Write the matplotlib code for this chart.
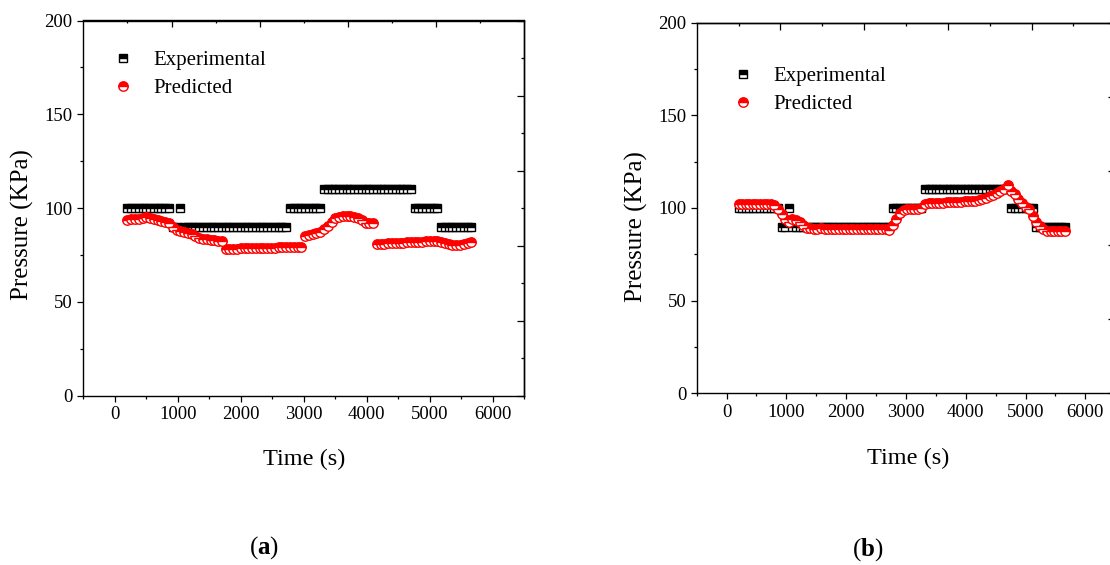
import numpy as np
import matplotlib
matplotlib.use("Agg")
import matplotlib.pyplot as plt
from matplotlib.ticker import FixedLocator, MultipleLocator, NullFormatter

plt.rcParams['font.family'] = ['Liberation Serif', 'DejaVu Serif']
plt.rcParams['mathtext.fontset'] = 'custom'
plt.rcParams['mathtext.rm'] = 'Liberation Serif'
plt.rcParams['mathtext.bf'] = 'Liberation Serif:bold'

# ---- data (time sampled every 60 s) ----
time_s = np.arange(200, 5700, 60)

experimental = [100, 100, 100, 100, 100, 100, 100, 100, 100, 100, 100, 100,
                90, 90,
                100,
                90, 90, 90, 90, 90, 90, 90, 90, 90, 90, 90, 90, 90, 90,
                90, 90, 90, 90, 90, 90, 90, 90, 90, 90, 90, 90, 90, 90,
                100, 100, 100, 100, 100, 100, 100, 100, 100,
                110, 110, 110, 110, 110, 110, 110, 110, 110, 110, 110, 110,
                110, 110, 110, 110, 110, 110, 110, 110, 110, 110, 110, 110,
                100, 100, 100, 100, 100, 100, 100,
                90, 90, 90, 90, 90, 90, 90, 90, 90]

predicted_a = [93.8, 94.0, 94.1, 94.3, 94.7, 95.0, 94.6, 94.0, 93.5, 93.1,
               92.7, 92.0, 90.0, 88.5, 87.6, 87.0, 86.6, 86.1, 85.0, 84.1,
               83.7, 83.4, 83.1, 82.9, 82.7, 82.4, 78.3, 78.3, 78.4, 78.4,
               78.5, 78.5, 78.6, 78.6, 78.7, 78.7, 78.8, 78.8, 78.9, 78.9,
               79.0, 79.0, 79.1, 79.1, 79.2, 79.3, 79.4, 85.0, 85.7, 86.3,
               86.8, 87.4, 88.6, 90.2, 92.8, 94.6, 95.3, 95.7, 95.9, 95.7,
               95.3, 94.7, 93.6, 92.1, 92.2, 92.3, 80.9, 81.0, 81.1, 81.2,
               81.3, 81.4, 81.5, 81.6, 81.7, 81.8, 81.9, 82.0, 82.1, 82.2,
               82.4, 82.5, 82.2, 81.8, 81.3, 80.9, 80.5, 80.2, 80.5, 81.0,
               81.5, 82.0]

predicted_b = [102.4, 102.3, 102.3, 102.3, 102.2, 102.3, 102.3, 102.3, 102.3, 102.1,
               101.4, 99.5, 96.6, 94.0, 92.3, 94.0, 93.7, 92.6, 90.6, 89.4,
               89.0, 88.8, 88.6, 89.2, 88.8, 88.6, 88.5, 88.9, 88.5, 88.5,
               88.8, 88.5, 88.6, 88.5, 88.6, 88.4, 88.5, 88.6, 88.5, 88.9,
               88.8, 88.6, 87.9, 90.6, 94.0, 97.2, 99.0, 99.6, 99.6, 99.7,
               99.7, 99.8, 102.2, 102.5, 102.6, 102.7, 102.8, 102.9, 103.0, 103.2,
               103.3, 103.4, 103.5, 103.6, 103.8, 103.9, 104.0, 104.2, 104.8, 105.6,
               106.4, 107.2, 108.1, 109.0, 110.3, 112.4, 109.4, 107.3, 105.0, 102.6,
               100.7, 99.3, 95.6, 92.6, 90.5, 88.5, 87.7, 87.6, 87.6, 87.5,
               87.5, 87.4]

x_ticks = [0, 1000, 2000, 3000, 4000, 5000, 6000]
y_ticks = [0, 50, 100, 150, 200]
top_major = [900, 2300, 3700, 5100]
top_minor = [200, 1600, 3000, 4400, 5800]
right_major = [0, 40, 80, 120, 160, 200]
right_minor = [20, 60, 100, 140, 180]

W, H = 1110, 565
fig = plt.figure(figsize=(W / 100, H / 100), dpi=100)


def px_rect(left, top, right, bottom):
    return [left / W, 1 - bottom / H, (right - left) / W, (bottom - top) / H]


def make_panel(rect, pred, leg_anchor, xlab_y, ylab_x, ylab_y, xlab_x=0.5):
    ax = fig.add_axes(rect)
    ax.plot(time_s, experimental, linestyle='none', marker='s', markersize=5.8,
            markeredgewidth=1.0, markeredgecolor='black', markerfacecolor='black',
            markerfacecoloralt='white', fillstyle='top', label='Experimental')
    ax.plot(time_s, pred, linestyle='none', marker='o', markersize=6.8,
            markeredgewidth=1.0, markeredgecolor='red', markerfacecolor='red',
            markerfacecoloralt='white', fillstyle='top', label='Predicted')
    ax.set_xlim(-500, 6500)
    ax.set_ylim(0, 200)
    ax.set_xticks(x_ticks)
    ax.set_yticks(y_ticks)
    ax.xaxis.set_minor_locator(MultipleLocator(500))
    ax.yaxis.set_minor_locator(MultipleLocator(25))
    for s in ax.spines.values():
        s.set_linewidth(1.0)
    ax.tick_params(which='major', direction='out', length=4.6, width=0.9,
                   labelsize=13.5, pad=3, top=False, right=False)
    ax.tick_params(which='minor', direction='out', length=2.4, width=0.9,
                   top=False, right=False)

    secx = ax.secondary_xaxis('top')
    secx.set_xticks(top_major)
    secx.xaxis.set_minor_locator(FixedLocator(top_minor))
    secx.xaxis.set_major_formatter(NullFormatter())
    secx.tick_params(which='major', direction='in', length=4.8, width=0.9)
    secx.tick_params(which='minor', direction='in', length=2.4, width=0.9)
    secx.spines['top'].set_linewidth(1.0)

    secy = ax.secondary_yaxis('right')
    secy.set_yticks(right_major)
    secy.yaxis.set_minor_locator(FixedLocator(right_minor))
    secy.yaxis.set_major_formatter(NullFormatter())
    secy.tick_params(which='major', direction='in', length=4.8, width=0.9)
    secy.tick_params(which='minor', direction='in', length=2.4, width=0.9)
    secy.spines['right'].set_linewidth(1.0)

    ax.set_xlabel('Time (s)', fontsize=17.5, va='center')
    ax.xaxis.set_label_coords(xlab_x, xlab_y)
    ax.set_ylabel('Pressure (KPa)', fontsize=18, va='center')
    ax.yaxis.set_label_coords(ylab_x, ylab_y)

    ax.legend(loc='upper left', bbox_to_anchor=leg_anchor, frameon=False,
              fontsize=15, numpoints=1, handlelength=1.0, handletextpad=0.95,
              borderpad=0, borderaxespad=0, labelspacing=0.40, markerscale=1.0)
    return ax


ax_a = make_panel(px_rect(83.3, 20.5, 524.3, 395.7), predicted_a,
                  (0.066, 0.919), -0.171, -0.139, 0.455)
ax_b = make_panel(px_rect(696.7, 22.7, 1115.2, 393.3), predicted_b,
                  (0.085, 0.881), -0.1746, -0.143, 0.451, xlab_x=0.505)

fig.text(264 / W, 1 - 548 / H, r'($\mathbf{a}$)', ha='center', va='center', fontsize=18)
fig.text(868 / W, 1 - 550 / H, r'($\mathbf{b}$)', ha='center', va='center', fontsize=18)

fig.savefig('out.png', dpi=100)
